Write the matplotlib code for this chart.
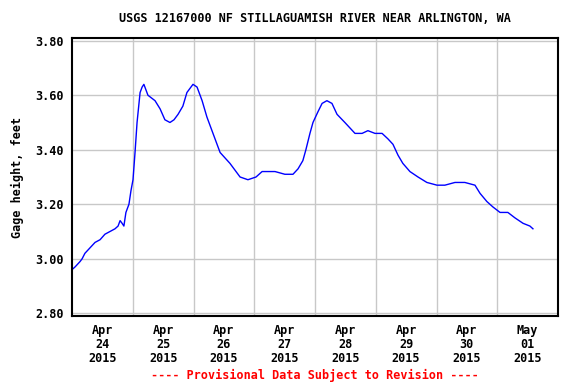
import numpy as np
import matplotlib
matplotlib.use("Agg")
import matplotlib.pyplot as plt

# hours since Apr 24 2015 00:00, gage height in feet
hours = [0.0, 1.2, 3.2, 4.0, 5.1, 7.1, 9.1, 11.1, 13.0, 15.0, 17.0, 18.2, 19.0, 19.8,
         20.5, 21.3, 22.5, 23.3, 24.1, 24.9, 25.7, 26.9, 27.7, 28.4, 30.0, 32.8, 34.8,
         36.7, 38.7, 40.3, 41.9, 43.8, 45.4, 47.0, 47.8, 49.4, 51.4, 53.3, 55.7, 58.5,
         62.4, 66.4, 69.5, 72.7, 75.1, 80.2, 84.1, 87.3, 89.3, 91.2, 92.4, 94.0, 95.2,
         97.2, 98.8, 100.7, 102.7, 104.7, 107.8, 109.8, 111.8, 114.6, 116.9, 119.7,
         122.5, 124.8, 126.8, 128.8, 130.7, 133.5, 136.7, 140.2, 144.2, 147.3, 151.3,
         155.2, 159.2, 161.2, 163.9, 166.3, 169.1, 172.2, 175.0, 178.2, 180.9, 182.1]
gage = [2.96, 2.97, 2.99, 3.00, 3.02, 3.04, 3.06, 3.07, 3.09, 3.10, 3.11, 3.12, 3.14, 3.13,
        3.12, 3.17, 3.20, 3.25, 3.29, 3.39, 3.50, 3.61, 3.63, 3.64, 3.60, 3.58, 3.55,
        3.51, 3.50, 3.51, 3.53, 3.56, 3.61, 3.63, 3.64, 3.63, 3.58, 3.52, 3.46, 3.39,
        3.35, 3.30, 3.29, 3.30, 3.32, 3.32, 3.31, 3.31, 3.33, 3.36, 3.40, 3.46, 3.50,
        3.54, 3.57, 3.58, 3.57, 3.53, 3.50, 3.48, 3.46, 3.46, 3.47, 3.46,
        3.46, 3.44, 3.42, 3.38, 3.35, 3.32, 3.30, 3.28, 3.27, 3.27, 3.28,
        3.28, 3.27, 3.24, 3.21, 3.19, 3.17, 3.17, 3.15, 3.13, 3.12, 3.11]

day_labels = ["Apr\n24\n2015", "Apr\n25\n2015", "Apr\n26\n2015", "Apr\n27\n2015",
              "Apr\n28\n2015", "Apr\n29\n2015", "Apr\n30\n2015", "May\n01\n2015"]
y_ticks = [2.80, 3.00, 3.20, 3.40, 3.60, 3.80]

font = {"family": "DejaVu Sans Mono", "weight": "bold", "size": 8.5}

fig = plt.figure(figsize=(5.76, 3.84), dpi=100)
ax = fig.add_axes([72 / 576, 68 / 384, 486 / 576, 278 / 384])

ax.plot(hours, gage, color="#0000ff", lw=1.0)

ax.set_xlim(0, 192)
ax.set_ylim(2.79, 3.81)

ax.set_xticks(np.arange(24, 192, 24))
ax.set_xticklabels([])
ax.set_xticks(np.arange(12, 192, 24), minor=True)
ax.set_xticklabels(day_labels, minor=True, fontdict=font, linespacing=1.1)
ax.set_yticks(y_ticks)
ax.set_yticklabels(["%.2f" % v for v in y_ticks], fontdict=font)
ax.tick_params(which="both", length=0, pad=6)
ax.tick_params(axis="x", which="minor", pad=6)

ax.grid(True, which="major", color="#c8c8c8", lw=1.0)
ax.set_axisbelow(True)
for s in ax.spines.values():
    s.set_linewidth(1.5)

ax.set_ylabel("Gage height, feet", fontdict=font, labelpad=8)
fig.text(315 / 576, 1 - 18 / 384, "USGS 12167000 NF STILLAGUAMISH RIVER NEAR ARLINGTON, WA",
         ha="center", va="center", **font)
fig.text(315 / 576, 1 - 375 / 384, "---- Provisional Data Subject to Revision ----",
         ha="center", va="center", color="#ff0000", **font)

fig.savefig("out.png", dpi=100)
